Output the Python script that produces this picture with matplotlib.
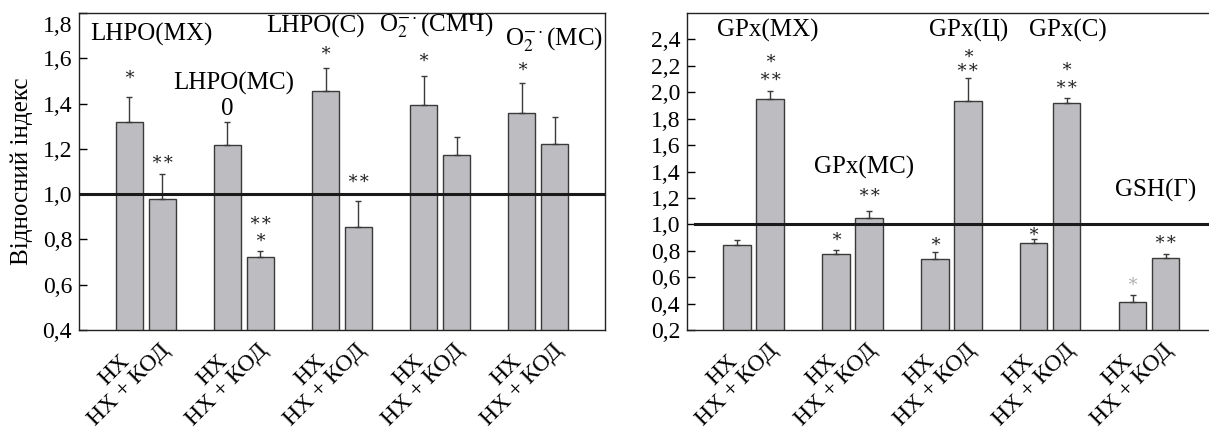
import numpy as np
import matplotlib.pyplot as plt
import matplotlib.transforms as mtransforms

plt.rcParams['font.family'] = ['Liberation Serif', 'DejaVu Serif']
plt.rcParams['mathtext.fontset'] = 'stix'

# --- data
group_label = 'НХ\nНХ + КОД'

left_hx = [1.32, 1.215, 1.455, 1.395, 1.36]
left_hx_err = [0.11, 0.105, 0.10, 0.125, 0.13]
left_kod = [0.978, 0.722, 0.853, 1.172, 1.222]
left_kod_err = [0.11, 0.027, 0.115, 0.08, 0.117]
left_yticks = [0.4, 0.6, 0.8, 1.0, 1.2, 1.4, 1.6, 1.8]

right_hx = [0.844, 0.773, 0.74, 0.857, 0.412]
right_hx_err = [0.04, 0.035, 0.048, 0.032, 0.055]
right_kod = [1.95, 1.048, 1.93, 1.917, 0.743]
right_kod_err = [0.058, 0.056, 0.175, 0.043, 0.03]
right_yticks = [0.2, 0.4, 0.6, 0.8, 1.0, 1.2, 1.4, 1.6, 1.8, 2.0, 2.2, 2.4]

left_names = ['LHPO(МХ)', 'LHPO(МС)', 'LHPO(С)',
              r'O$_2^{-\cdot}$(СМЧ)', r'O$_2^{-\cdot}$(МС)']
right_names = ['GPx(МХ)', 'GPx(МС)', 'GPx(Ц)', 'GPx(С)', 'GSH(Г)']

BAR = '#bdbdc1'
EDGE = '#3a3a3a'
STAR = '\u2217'

W, H = 1209, 433
fig = plt.figure(figsize=(W / 100, H / 100), dpi=100)
ax1 = fig.add_axes([79 / W, 103 / H, (605 - 79) / W, (330 - 13) / H])
ax2 = fig.add_axes([687 / W, 103 / H, (W - 687) / W, (330 - 13) / H])

off = 0.167
bw = 0.277


def draw(ax, hx, hx_err, kod, kod_err, yticks, ylim, xlim, line_start):
    x = np.arange(len(hx))
    for xs, v, e in [(x - off, hx, hx_err), (x + off, kod, kod_err)]:
        ax.bar(xs, v, width=bw, color=BAR, edgecolor=EDGE, linewidth=1.0, zorder=2)
        ax.errorbar(xs, v, yerr=[np.zeros(len(v)), e], fmt='none', ecolor=EDGE,
                    elinewidth=1.0, capsize=2.5, capthick=1.0, zorder=3)
    ax.axhline(1.0, xmin=line_start, color='#1a1a1a', lw=2.2, zorder=4)
    ax.set_ylim(*ylim)
    ax.set_xlim(*xlim)
    ax.set_yticks(yticks)
    ax.set_yticklabels([f'{t:.1f}'.replace('.', ',') for t in yticks], fontsize=17)
    ax.tick_params(axis='y', direction='in', length=6, width=1, pad=5)
    ax.set_xticks(x)
    ax.set_xticklabels([group_label] * len(x), rotation=45, ha='center', va='center',
                       rotation_mode='anchor', multialignment='center',
                       linespacing=1.0, fontsize=17)
    ax.tick_params(axis='x', length=0, pad=0)
    shift = mtransforms.ScaledTranslation(-0.24, -0.48, fig.dpi_scale_trans)
    for t in ax.get_xticklabels():
        t.set_transform(t.get_transform() + shift)
    for s in ax.spines.values():
        s.set_linewidth(1.0)
        s.set_color('#222222')


draw(ax1, left_hx, left_hx_err, left_kod, left_kod_err, left_yticks,
     (0.4, 1.8), (-0.68, 4.68), 0.0)
draw(ax2, right_hx, right_hx_err, right_kod, right_kod_err, right_yticks,
     (0.2, 2.6), (-0.674, 4.606), 0.015)
ax2.spines['right'].set_visible(False)

# top label "1,8" sits a little below its tick
top_lab = ax1.get_yticklabels()[-1]
top_lab.set_transform(top_lab.get_transform() +
                      mtransforms.ScaledTranslation(0, -0.11, fig.dpi_scale_trans))

ax1.set_ylabel('Відносний індекс', fontsize=18)
ax1.yaxis.set_label_coords(-0.088, 0.5)

# group names
name_pos_left = [(0.054, 1.707), (0.90, 1.489), (1.726, 1.742), (2.959, 1.742), (4.162, 1.68)]
for s, (xx, yy) in zip(left_names, name_pos_left):
    ax1.text(xx, yy, s, fontsize=18, ha='center', va='center')
ax1.text(1 - off, 1.378, '0', fontsize=18, ha='center', va='center')

name_pos_right = [(0.146, 2.465), (1.113, 1.427), (2.171, 2.465), (3.178, 2.465), (4.069, 1.253)]
for s, (xx, yy) in zip(right_names, name_pos_right):
    ax2.text(xx, yy, s, fontsize=18, ha='center', va='center')

# significance marks: (group, bar side, y, text)
marks_left = [(0, -1, 1.524, STAR), (0, 1, 1.151, STAR * 2),
              (1, 1, 0.88, STAR * 2), (1, 1, 0.804, STAR),
              (2, -1, 1.631, STAR), (2, 1, 1.067, STAR * 2),
              (3, -1, 1.60, STAR), (4, -1, 1.56, STAR)]
marks_right = [(0, 1, 2.25, STAR), (0, 1, 2.11, STAR * 2),
               (1, -1, 0.905, STAR), (1, 1, 1.238, STAR * 2),
               (2, -1, 0.867, STAR), (2, 1, 2.29, STAR), (2, 1, 2.18, STAR * 2),
               (3, -1, 0.942, STAR), (3, 1, 2.19, STAR), (3, 1, 2.05, STAR * 2),
               (4, 1, 0.882, STAR * 2)]
for ax, marks in [(ax1, marks_left), (ax2, marks_right)]:
    for g, side, yy, s in marks:
        ax.text(g + side * off, yy, s, fontsize=13, ha='center', va='center', color='#222222')
ax2.text(4 - off, 0.564, STAR, fontsize=13, ha='center', va='center', color='#b0b0b0')

fig.savefig('out.png', dpi=100)
